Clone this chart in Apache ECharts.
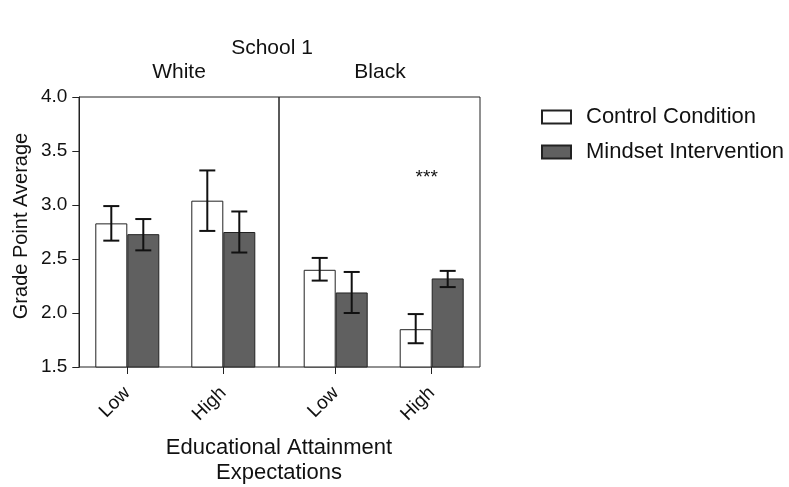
<!DOCTYPE html>
<html>
<head>
<meta charset="utf-8">
<script src="https://cdn.jsdelivr.net/npm/echarts@6/dist/echarts.min.js"></script>
<style>
  html, body { margin: 0; padding: 0; background: #fff; }
  #chart { width: 789px; height: 487px; }
</style>
</head>
<body>
<div id="chart"></div>
<script>
// categories
var levels = ['Low', 'High'];
var groups = ['White', 'Black'];
var seriesNames = ['Control Condition', 'Mindset Intervention'];

// order: White Low, White High, Black Low, Black High
var controlMean = [2.83, 3.04, 2.40, 1.85];
var controlLow  = [2.67, 2.76, 2.30, 1.72];
var controlHigh = [2.99, 3.32, 2.51, 1.99];

var mindsetMean = [2.73, 2.75, 2.19, 2.32];
var mindsetLow  = [2.58, 2.56, 2.00, 2.24];
var mindsetHigh = [2.87, 2.94, 2.38, 2.39];

// y axis ticks
var yMin = 1.5, yMax = 4.0, yStep = 0.5;

// significance marker (Black, High)
var starText = '***';
var starAt = [1, 3.25];

var chart = echarts.init(document.getElementById('chart'));
var FONT = 'Liberation Sans, Arial, sans-serif';
var INK = '#111';

function part(arr, g) {
    return arr.slice(g * 2, g * 2 + 2);
}

function errRows(lo, hi, g) {
    var rows = [];
    for (var i = 0; i < 2; i++) {
        rows.push([i, lo[g * 2 + i], hi[g * 2 + i]]);
    }
    return rows;
}

// error bar with caps, shifted onto its bar
function errRender(off) {
    return function (params, api) {
        var c = api.value(0);
        var a = api.coord([c, api.value(1)]);
        var b = api.coord([c, api.value(2)]);
        var x = a[0] + off;
        var st = { stroke: INK, lineWidth: 2 };
        return {
            type: 'group',
            children: [
                { type: 'line', shape: { x1: x, y1: a[1], x2: x, y2: b[1] }, style: st },
                { type: 'line', shape: { x1: x - 8, y1: a[1], x2: x + 8, y2: a[1] }, style: st },
                { type: 'line', shape: { x1: x - 8, y1: b[1], x2: x + 8, y2: b[1] }, style: st }
            ]
        };
    };
}

var xAxes = [], yAxes = [], series = [];
for (var g = 0; g < 2; g++) {
    xAxes.push({
        type: 'category',
        gridIndex: g + 2,
        data: levels,
        axisLine: { show: false },
        axisTick: { show: true, alignWithLabel: true, length: 7, lineStyle: { color: '#222' } },
        axisLabel: { rotate: 45, margin: 23, fontSize: 19, color: INK, fontFamily: FONT }
    });
    yAxes.push({
        type: 'value',
        gridIndex: g + 2,
        min: yMin,
        max: yMax,
        interval: yStep,
        show: g === 0,
        splitLine: { show: false },
        axisLine: { show: true, lineStyle: { color: '#222' } },
        axisTick: { show: true, length: 7, lineStyle: { color: '#222' } },
        axisLabel: {
            margin: 12, fontSize: 19, color: INK, fontFamily: FONT,
            formatter: function (v) { return v.toFixed(1); }
        }
    });
    series.push({
        name: seriesNames[0],
        type: 'bar',
        xAxisIndex: g,
        yAxisIndex: g,
        data: part(controlMean, g),
        barWidth: 32,
        barGap: '0%',
        itemStyle: { color: '#ffffff', borderColor: '#222', borderWidth: 1 }
    });
    var ms = {
        name: seriesNames[1],
        type: 'bar',
        xAxisIndex: g,
        yAxisIndex: g,
        data: part(mindsetMean, g),
        barWidth: 32,
        barGap: '0%',
        itemStyle: { color: '#606060', borderColor: '#222', borderWidth: 1 }
    };
    if (g === 1) {
        ms.markPoint = {
            symbol: 'rect',
            symbolSize: 0,
            data: [{ coord: starAt, value: starText }],
            label: {
                show: true, formatter: starText, position: 'inside', offset: [-21, 0],
                fontSize: 19, color: INK, fontFamily: FONT
            }
        };
    }
    series.push(ms);
    series.push({
        type: 'custom',
        xAxisIndex: g,
        yAxisIndex: g,
        z: 5,
        data: errRows(controlLow, controlHigh, g),
        encode: { x: 0, y: [1, 2] },
        renderItem: errRender(-16)
    });
    series.push({
        type: 'custom',
        xAxisIndex: g,
        yAxisIndex: g,
        z: 5,
        data: errRows(mindsetLow, mindsetHigh, g),
        encode: { x: 0, y: [1, 2] },
        renderItem: errRender(16)
    });
}

var option = {
    backgroundColor: '#ffffff',
    animation: false,
    textStyle: { fontFamily: FONT },
    title: [
        { text: 'School 1', left: 272, top: 38, textAlign: 'center', padding: 0,
          textStyle: { fontSize: 21, fontWeight: 'normal', color: INK, fontFamily: FONT } },
        { text: groups[0], left: 179, top: 62, textAlign: 'center', padding: 0,
          textStyle: { fontSize: 21, fontWeight: 'normal', color: INK, fontFamily: FONT } },
        { text: groups[1], left: 380, top: 62, textAlign: 'center', padding: 0,
          textStyle: { fontSize: 21, fontWeight: 'normal', color: INK, fontFamily: FONT } },
        { text: 'Educational Attainment\nExpectations', left: 279, top: 435, textAlign: 'center', padding: 0,
          textStyle: { fontSize: 22, lineHeight: 25, fontWeight: 'normal', color: INK, fontFamily: FONT } }
    ],
    graphic: [
        { type: 'text', x: 21, y: 226, rotation: Math.PI / 2,
          style: { text: 'Grade Point Average', fontSize: 20, fill: INK, fontFamily: FONT,
                   align: 'center', verticalAlign: 'middle' } }
    ],
    legend: {
        orient: 'vertical',
        left: 541,
        top: 106,
        padding: 0,
        itemWidth: 29,
        itemHeight: 13,
        itemGap: 13,
        icon: 'rect',
        data: seriesNames,
        textStyle: { fontSize: 22, color: INK, fontFamily: FONT, padding: [0, 0, 0, 10] }
    },
    grid: [
        { left: 79, top: 97, width: 200, height: 270, show: true, borderColor: '#222', borderWidth: 1, backgroundColor: 'transparent' },
        { left: 279, top: 97, width: 201, height: 270, show: true, borderColor: '#222', borderWidth: 1, backgroundColor: 'transparent' },
        { left: 79.3, top: 97, width: 192, height: 270 },
        { left: 287.7, top: 97, width: 192, height: 270 }
    ],
    xAxis: xAxes,
    yAxis: yAxes,
    series: series
};

chart.setOption(option);
</script>
</body>
</html>
